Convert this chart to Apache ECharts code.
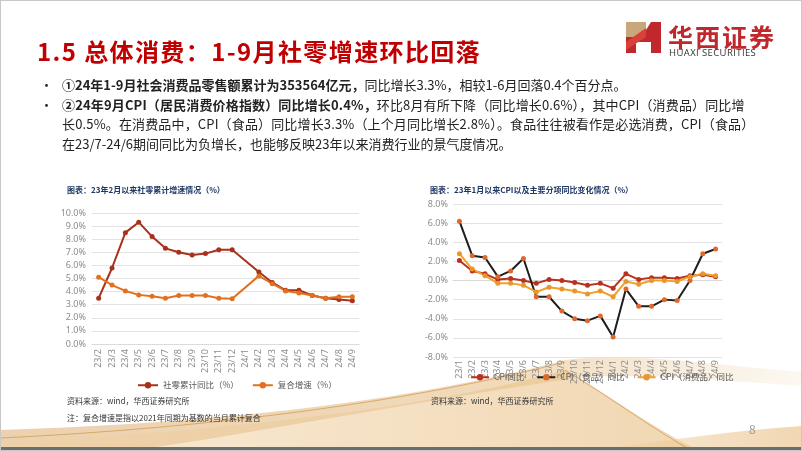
<!DOCTYPE html>
<html>
<head>
<meta charset="utf-8">
<script src="https://cdn.jsdelivr.net/npm/echarts@6/dist/echarts.min.js"></script>
<style>
	body { margin: 0; background: #fff; }
	#slide { position: relative; width: 802px; height: 451px; overflow: hidden; background: #fff;
		font-family: "Noto Sans CJK SC", "Noto Sans", sans-serif; }
	#bg { position: absolute; left: 0; top: 0; }
	#chart { position: absolute; left: 0; top: 0; width: 802px; height: 451px; }
	.txt { position: absolute; white-space: nowrap; }
	#title { left: 37px; top: 33px; font-size: 24px; font-weight: bold; color: #C00000; letter-spacing: 1.4px; }
	.bul { left: 40px; font-size: 13px; color: #222; }
	.line { left: 62px; font-size: 13px; color: #222; }
	.cap { font-size: 8px; font-weight: bold; color: #1F3864; }
	.src { font-size: 8px; color: #333; }
</style>
</head>
<body>
<div id="slide">
	<svg id="bg" width="802" height="451">
		<defs>
			<linearGradient id="g1" x1="0" y1="0" x2="1" y2="0">
				<stop offset="0" stop-color="#D9A35E" stop-opacity="0.5"/>
				<stop offset="0.65" stop-color="#E3B676" stop-opacity="0.5"/>
				<stop offset="1" stop-color="#F1D9B5" stop-opacity="0.2"/>
			</linearGradient>
			<linearGradient id="g2" x1="0" y1="0" x2="1" y2="0">
				<stop offset="0" stop-color="#F0D2A6" stop-opacity="0.45"/>
				<stop offset="1" stop-color="#E8BC7E" stop-opacity="0.6"/>
			</linearGradient>
		</defs>
		<path d="M0,430 C200,424 400,404 565,360 C640,352 720,366 802,372 L802,386 C715,380 640,372 575,378 C440,398 260,432 130,451 L0,451 Z" fill="url(#g1)"/>
		<path d="M0,442 C220,432 430,408 565,370 C605,392 655,430 700,451 L0,451 Z" fill="url(#g2)"/>
		<path d="M590,451 C670,440 740,430 802,426 L802,451 Z" fill="url(#g2)"/>
		<path d="M0,438 C210,428 410,402 565,362" stroke="#C88A3A" stroke-width="1" fill="none" opacity="0.6"/>
		<path d="M565,370 C605,394 655,430 692,451" stroke="#C88A3A" stroke-width="1" fill="none" opacity="0.6"/>
		<rect x="0" y="447" width="802" height="4" fill="#6d6d6d"/>
		<rect x="0.5" y="0.5" width="801" height="450" fill="none" stroke="#c8c8c8"/>
		<!-- logo -->
		<rect x="626" y="22" width="20" height="15" fill="#C9A77C"/>
		<polygon points="626,37 646,37 646,30 651,22 661,22 661,53 651,53 651,42 636,42 636,53 626,53" fill="#C0282D"/>
		<polygon points="626,42 646,28 646,37 626,50" fill="#D8403A"/>
	</svg>
	<div id="chart"></div>

	<div class="txt" id="title">1.5 总体消费：1-9月社零增速环比回落</div>
	<div class="txt" style="left:668px;top:18px;font-size:25px;font-weight:bold;color:#C0282D;letter-spacing:2px;">华西证券</div>
	<div class="txt" style="left:669px;top:46px;font-size:9.5px;color:#333;letter-spacing:0.4px;font-family:'Open Sans',sans-serif;">HUAXI SECURITIES</div>

	<div class="txt bul" style="top:75px;">•</div>
	<div class="txt line" style="top:75px;"><b>①24年1-9月社会消费品零售额累计为353564亿元，</b>同比增长3.3%，相较1-6月回落0.4个百分点。</div>
	<div class="txt bul" style="top:95px;">•</div>
	<div class="txt line" style="top:95px;letter-spacing:0.15px;"><b>②24年9月CPI（居民消费价格指数）同比增长0.4%，</b>环比8月有所下降（同比增长0.6%），其中CPI（消费品）同比增</div>
	<div class="txt line" style="top:114px;letter-spacing:0.15px;">长0.5%。在消费品中，CPI（食品）同比增长3.3%（上个月同比增长2.8%）。食品往往被看作是必选消费，CPI（食品）</div>
	<div class="txt line" style="top:134px;">在23/7-24/6期间同比为负增长，也能够反映23年以来消费行业的景气度情况。</div>

	<div class="txt cap" style="left:67px;top:184px;">图表：23年2月以来社零累计增速情况（%）</div>
	<div class="txt cap" style="left:430px;top:184px;">图表：23年1月以来CPI以及主要分项同比变化情况（%）</div>
	<div class="txt src" style="left:67px;top:395px;">资料来源：wind，华西证券研究所</div>
	<div class="txt src" style="left:67px;top:412px;">注：复合增速是指以2021年同期为基数的当月累计复合</div>
	<div class="txt src" style="left:431px;top:395px;">资料来源：wind，华西证券研究所</div>
	<div class="txt" style="left:749px;top:420px;font-size:12px;color:#9a9a9a;">8</div>
</div>

<script>
// 左图：社零累计同比 / 复合增速（24/1 无单月数据）
var leftMonths = ['23/2', '23/3', '23/4', '23/5', '23/6', '23/7', '23/8', '23/9', '23/10', '23/11', '23/12',
	'24/1', '24/2', '24/3', '24/4', '24/5', '24/6', '24/7', '24/8', '24/9'];
var retailYoy = [3.5, 5.8, 8.5, 9.3, 8.2, 7.3, 7.0, 6.8, 6.9, 7.2, 7.2,
	null, 5.5, 4.7, 4.1, 4.1, 3.7, 3.5, 3.4, 3.3];
var compoundGrowth = [5.1, 4.5, 4.05, 3.75, 3.65, 3.5, 3.7, 3.7, 3.7, 3.5, 3.45,
	null, 5.2, 4.6, 4.05, 3.9, 3.7, 3.5, 3.6, 3.6];

// 右图：CPI 及分项同比
var rightMonths = ['23/1', '23/2', '23/3', '23/4', '23/5', '23/6', '23/7', '23/8', '23/9', '23/10', '23/11', '23/12',
	'24/1', '24/2', '24/3', '24/4', '24/5', '24/6', '24/7', '24/8', '24/9'];
var cpiYoy = [2.1, 1.0, 0.7, 0.1, 0.2, 0.0, -0.3, 0.1, 0.0, -0.2, -0.5, -0.3,
	-0.8, 0.7, 0.1, 0.3, 0.3, 0.2, 0.5, 0.6, 0.4];
var cpiFood = [6.2, 2.6, 2.4, 0.4, 1.0, 2.3, -1.7, -1.7, -3.2, -4.0, -4.2, -3.7,
	-5.9, -0.9, -2.7, -2.7, -2.0, -2.1, 0.0, 2.8, 3.3];
var cpiGoods = [2.8, 1.2, 0.5, -0.3, -0.3, -0.5, -1.2, -0.7, -0.9, -1.1, -1.4, -1.1,
	-1.7, -0.1, -0.4, 0.0, 0.0, -0.1, 0.4, 0.7, 0.5];

var leftNames = ['社零累计同比（%）', '复合增速（%）'];
var rightNames = ['CPI同比', 'CPI（食品）同比', 'CPI（消费品）同比'];

var chart = echarts.init(document.getElementById('chart'), null, {renderer: 'canvas'});

function pct(v) {
	return v.toFixed(1) + '%';
}

var axisLabelStyle = {fontSize: 9, color: '#8c8c8c', fontFamily: 'Noto Sans'};

function lineSeries(name, data, xi, lineColor, dotColor) {
	return {
		name: name,
		type: 'line',
		xAxisIndex: xi,
		yAxisIndex: xi,
		data: data,
		connectNulls: true,
		symbol: 'circle',
		symbolSize: 5,
		lineStyle: {width: 2, color: lineColor},
		itemStyle: {color: dotColor}
	};
}

var option = {
	animation: false,
	backgroundColor: 'transparent',
	textStyle: {fontFamily: 'Noto Sans CJK SC'},
	grid: [
		{left: 92, right: 443, top: 213, bottom: 107},
		{left: 453, right: 80, top: 204, bottom: 94}
	],
	legend: [
		{
			data: leftNames,
			left: 132, top: 376,
			itemWidth: 20, itemHeight: 8, itemGap: 13,
			textStyle: {fontSize: 8.5, color: '#595959'}
		},
		{
			data: rightNames,
			left: 465, top: 368,
			itemWidth: 18, itemHeight: 8, itemGap: 12,
			textStyle: {fontSize: 8.5, color: '#595959'}
		}
	],
	xAxis: [
		{
			gridIndex: 0,
			type: 'category',
			data: leftMonths,
			axisTick: {show: false},
			axisLine: {lineStyle: {color: '#d9d9d9', type: 'dotted'}},
			axisLabel: Object.assign({rotate: 90, interval: 0, margin: 5}, axisLabelStyle)
		},
		{
			gridIndex: 1,
			type: 'category',
			data: rightMonths,
			axisTick: {show: false},
			axisLine: {onZero: true, lineStyle: {color: '#d9d9d9'}},
			axisLabel: Object.assign({rotate: 90, interval: 0, margin: 3}, axisLabelStyle)
		}
	],
	yAxis: [
		{
			gridIndex: 0,
			type: 'value',
			min: 0, max: 10, interval: 1,
			axisLabel: Object.assign({formatter: pct, margin: 6}, axisLabelStyle),
			splitLine: {lineStyle: {color: '#e3e3e3'}}
		},
		{
			gridIndex: 1,
			type: 'value',
			min: -8, max: 8, interval: 2,
			axisLabel: Object.assign({formatter: pct, margin: 5}, axisLabelStyle),
			splitLine: {lineStyle: {color: '#e3e3e3'}}
		}
	],
	series: [
		lineSeries(leftNames[0], retailYoy, 0, '#A8301C', '#A8301C'),
		lineSeries(leftNames[1], compoundGrowth, 0, '#E2711F', '#E2711F'),
		lineSeries(rightNames[0], cpiYoy, 1, '#B8321E', '#B8321E'),
		lineSeries(rightNames[1], cpiFood, 1, '#1e1e1e', '#DD6A2C'),
		lineSeries(rightNames[2], cpiGoods, 1, '#F0A32A', '#E9962C')
	]
};
chart.setOption(option);
</script>
</body>
</html>
